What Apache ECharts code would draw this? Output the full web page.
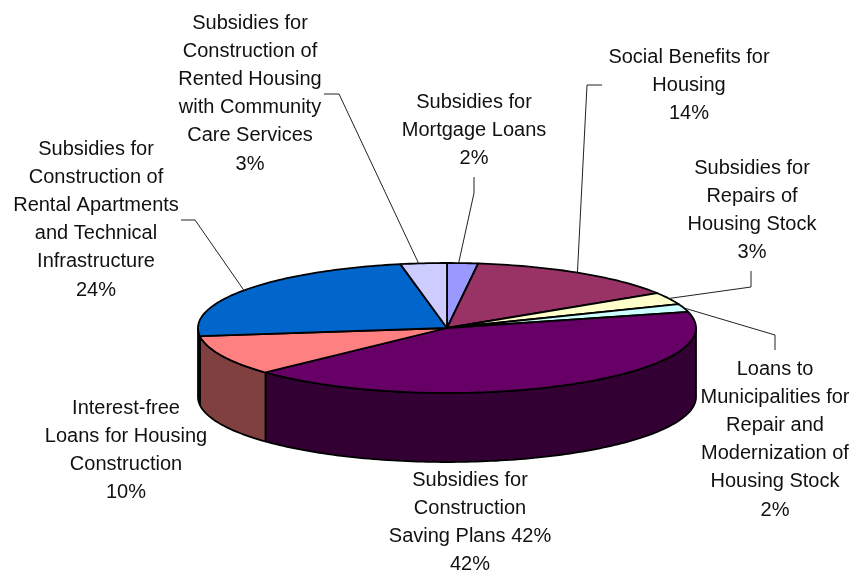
<!DOCTYPE html>
<html>
<head>
<meta charset="utf-8">
<script src="https://cdn.jsdelivr.net/npm/echarts@6/dist/echarts.min.js"></script>
<style>
  html, body { margin: 0; padding: 0; background: #fff; }
  #chart { width: 851px; height: 572px; }
</style>
</head>
<body>
<div id="chart"></div>
<script>
// Housing budget shares, clockwise from twelve o'clock.
const categories = [
  'Subsidies for\nMortgage Loans',
  'Social Benefits for\nHousing',
  'Subsidies for\nRepairs of\nHousing Stock',
  'Loans to\nMunicipalities for\nRepair and\nModernization of\nHousing Stock',
  'Subsidies for\nConstruction\nSaving Plans 42%',
  'Interest-free\nLoans for Housing\nConstruction',
  'Subsidies for\nConstruction of\nRental Apartments\nand Technical\nInfrastructure',
  'Subsidies for\nConstruction of\nRented Housing\nwith Community\nCare Services'
];
const shares = [2, 14, 3, 2, 42, 10, 24, 3];
const topColors = ['#9999FF', '#993366', '#FFFFCC', '#CCFFFF', '#660066', '#FF8080', '#0066CC', '#CCCCFF'];
const sideColors = ['#4D4D80', '#4D1A33', '#808066', '#668080', '#330033', '#804040', '#003366', '#666680'];

// Tilted disc geometry.
const disc = { cx: 447, cy: 328, rx: 249, ry: 65, depth: 69 };

// Label placement: centre x, top y of the text block, the leader's bend points,
// and a small sideways shift of where the leader meets the rim.
const labelLayout = [
  { x: 474, y: 88,  leader: [[474, 177], [474, 193]], shift: -4 },
  { x: 689, y: 43,  leader: [[602, 85], [587, 85]], shift: -3 },
  { x: 752, y: 154, leader: [[751, 271], [751, 287]], shift: 0 },
  { x: 775, y: 355, leader: [[775, 350], [775, 335]], shift: 0 },
  { x: 470, y: 466, leader: null },
  { x: 126, y: 394, leader: null },
  { x: 96,  y: 135, leader: [[181, 220], [195, 220]], shift: -2 },
  { x: 250, y: 9,   leader: [[324, 94], [339, 94]], shift: -5 }
];
const textFont = '20px "Liberation Sans", Arial, sans-serif';
const textLineHeight = 28.2;

const total = shares.reduce((a, b) => a + b, 0);
const startTurn = shares.map((_, i) => shares.slice(0, i).reduce((a, b) => a + b, 0) / total);
const endTurn = shares.map((_, i) => startTurn[i] + shares[i] / total);

// Point on the rim; the angle runs clockwise from the top of the disc.
function rim(angle, drop) {
  return [
    disc.cx + disc.rx * Math.sin(angle),
    disc.cy - disc.ry * Math.cos(angle) + (drop || 0)
  ];
}
function arc(a0, a1, drop) {
  const steps = Math.max(2, Math.ceil(Math.abs(a1 - a0) / 0.02));
  const pts = [];
  for (let k = 0; k <= steps; k++) {
    pts.push(rim(a0 + (a1 - a0) * k / steps, drop));
  }
  return pts;
}
const lineStyle = { stroke: '#000', lineWidth: 1.8, lineJoin: 'round' };

// Outer wall of a slice: only the front half of the rim is visible.
function renderWall(params, api) {
  const i = params.dataIndex;
  const a0 = Math.max(startTurn[i] * 2 * Math.PI, Math.PI / 2);
  const a1 = Math.min(endTurn[i] * 2 * Math.PI, Math.PI * 3 / 2);
  if (a1 <= a0 || !api.value(0)) return null;
  const pts = arc(a0, a1, 0).concat(arc(a1, a0, disc.depth));
  return {
    type: 'polygon',
    shape: { points: pts },
    style: Object.assign({ fill: sideColors[i] }, lineStyle)
  };
}

// Top face of a slice.
function renderFace(params, api) {
  const i = params.dataIndex;
  const pts = [[disc.cx, disc.cy]].concat(
    arc(startTurn[i] * 2 * Math.PI, endTurn[i] * 2 * Math.PI, 0)
  );
  return {
    type: 'polygon',
    shape: { points: pts },
    style: Object.assign({ fill: topColors[i] }, lineStyle)
  };
}

// Category text, percentage and leader line running to the slice's mid-angle.
function renderLabel(params, api) {
  const i = params.dataIndex;
  const place = labelLayout[i];
  const children = [{
    type: 'text',
    style: {
      x: place.x,
      y: place.y,
      text: categories[i] + '\n' + api.value(0) + '%',
      font: textFont,
      lineHeight: textLineHeight,
      fill: '#111',
      align: 'center',
      verticalAlign: 'top'
    }
  }];
  if (place.leader) {
    const anchor = rim((startTurn[i] + endTurn[i]) * Math.PI, 0);
    anchor[0] += place.shift;
    children.push({
      type: 'polyline',
      shape: { points: place.leader.concat([anchor]) },
      style: { stroke: '#222', lineWidth: 1, fill: null }
    });
  }
  return { type: 'group', children };
}

const seriesData = shares.map(v => [v]);
const chart = echarts.init(document.getElementById('chart'), null, { renderer: 'canvas' });
chart.setOption({
  animation: false,
  backgroundColor: '#fff',
  series: [
    { type: 'custom', coordinateSystem: 'none', silent: true, z: 1, data: seriesData, renderItem: renderWall },
    { type: 'custom', coordinateSystem: 'none', silent: true, z: 2, data: seriesData, renderItem: renderFace },
    { type: 'custom', coordinateSystem: 'none', silent: true, z: 3, data: seriesData, renderItem: renderLabel }
  ]
});
</script>
</body>
</html>
